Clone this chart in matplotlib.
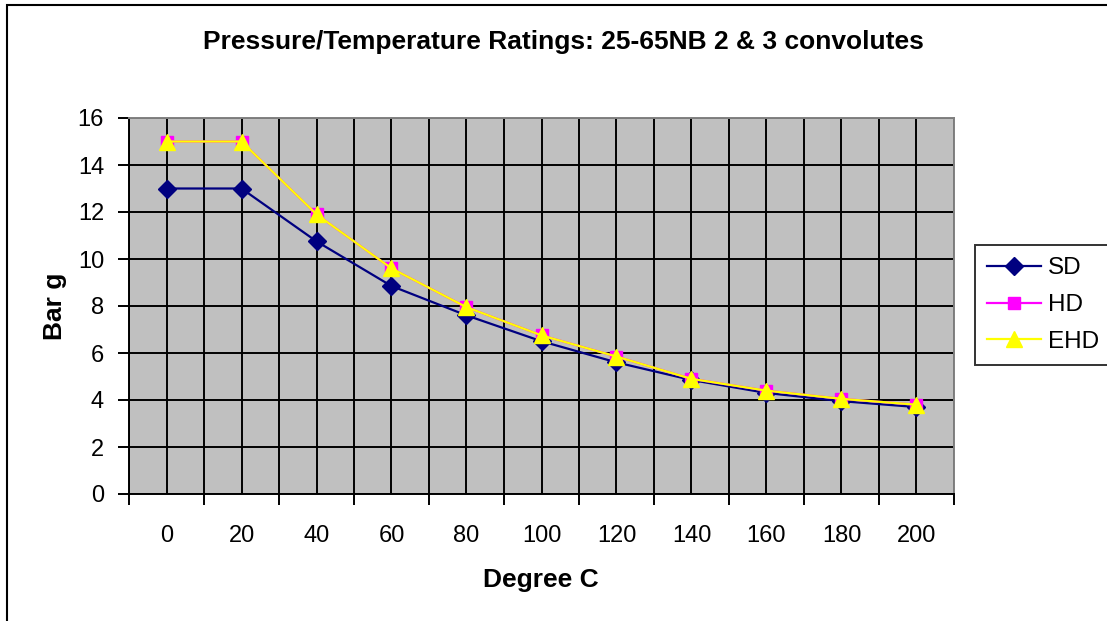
import numpy as np
import matplotlib.pyplot as plt
from matplotlib.patches import Rectangle
from matplotlib.ticker import MultipleLocator, FixedLocator

plt.rcParams['font.family'] = ['Liberation Sans', 'DejaVu Sans']

# data
temps = ['0', '20', '40', '60', '80', '100', '120', '140', '160', '180', '200']
sd = [13.0, 13.0, 10.75, 8.85, 7.6, 6.5, 5.6, 4.85, 4.3, 3.95, 3.7]
hd = [15.0, 15.0, 11.9, 9.6, 7.95, 6.75, 5.85, 4.9, 4.4, 4.05, 3.8]
ehd = [15.0, 15.0, 11.9, 9.6, 7.95, 6.75, 5.85, 4.9, 4.4, 4.05, 3.8]

W, H = 1107, 621
fig = plt.figure(figsize=(W / 100, H / 100), dpi=100)

# outer chart frame (only left/top edges are in view)
fig.patches.append(Rectangle((7 / W, -0.1), 1.2, 1.1 - 5 / H, transform=fig.transFigure,
                             fill=False, edgecolor='black', linewidth=1.5))

ax = fig.add_axes([129 / W, 1 - 494 / H, (954 - 129) / W, (494 - 118) / H])
ax.set_facecolor('#C0C0C0')

x = np.arange(len(temps))
ax.plot(x, sd, color='#000080', marker='D', markersize=9.5, linewidth=1.6, label='SD', zorder=3)
ax.plot(x, hd, color='#FF00FF', marker='s', markersize=9, linewidth=1.6, label='HD', zorder=4)
ax.plot(x, ehd, color='#FFFF00', marker='^', markersize=11, linewidth=1.6, label='EHD', zorder=5)

ax.set_xlim(-0.5, len(temps) - 0.5)
ax.set_ylim(0, 16)
ax.xaxis.set_major_locator(FixedLocator(x))
ax.set_xticklabels(temps)
ax.xaxis.set_minor_locator(FixedLocator(np.arange(-0.5, len(temps), 1.0)))
ax.yaxis.set_major_locator(MultipleLocator(2))

ax.tick_params(axis='x', which='major', length=0, pad=22, labelsize=17)
ax.tick_params(axis='x', which='minor', length=8, width=1.4, direction='out')
ax.tick_params(axis='y', which='major', length=8, width=1.4, direction='out', pad=10, labelsize=17)

ax.grid(True, which='both', axis='x', color='black', linewidth=1.4)
ax.grid(True, which='major', axis='y', color='black', linewidth=1.4)
ax.set_axisbelow(True)

for side in ['left', 'bottom']:
    ax.spines[side].set_color('black')
    ax.spines[side].set_linewidth(1.4)
for side in ['top', 'right']:
    ax.spines[side].set_color('#808080')
    ax.spines[side].set_linewidth(1.4)

fig.text(563 / W, 1 - 42 / H, 'Pressure/Temperature Ratings: 25-65NB 2 & 3 convolutes',
         ha='center', va='center', fontsize=19, fontweight='bold')
fig.text(541 / W, 1 - 580 / H, 'Degree C', ha='center', va='center', fontsize=19, fontweight='bold')
fig.text(55 / W, 1 - 306 / H, 'Bar g', ha='center', va='center', rotation=90,
         fontsize=19, fontweight='bold')

leg = fig.legend(loc='center left', bbox_to_anchor=(975 / W, 1 - 305 / H), fontsize=17.5,
                 frameon=True, fancybox=False, shadow=False, handlelength=2.2,
                 handletextpad=0.3, labelspacing=0.6, borderpad=0.5, borderaxespad=0)
leg.get_frame().set_edgecolor('black')
leg.get_frame().set_linewidth(1.4)

plt.savefig('out.png', dpi=100)
